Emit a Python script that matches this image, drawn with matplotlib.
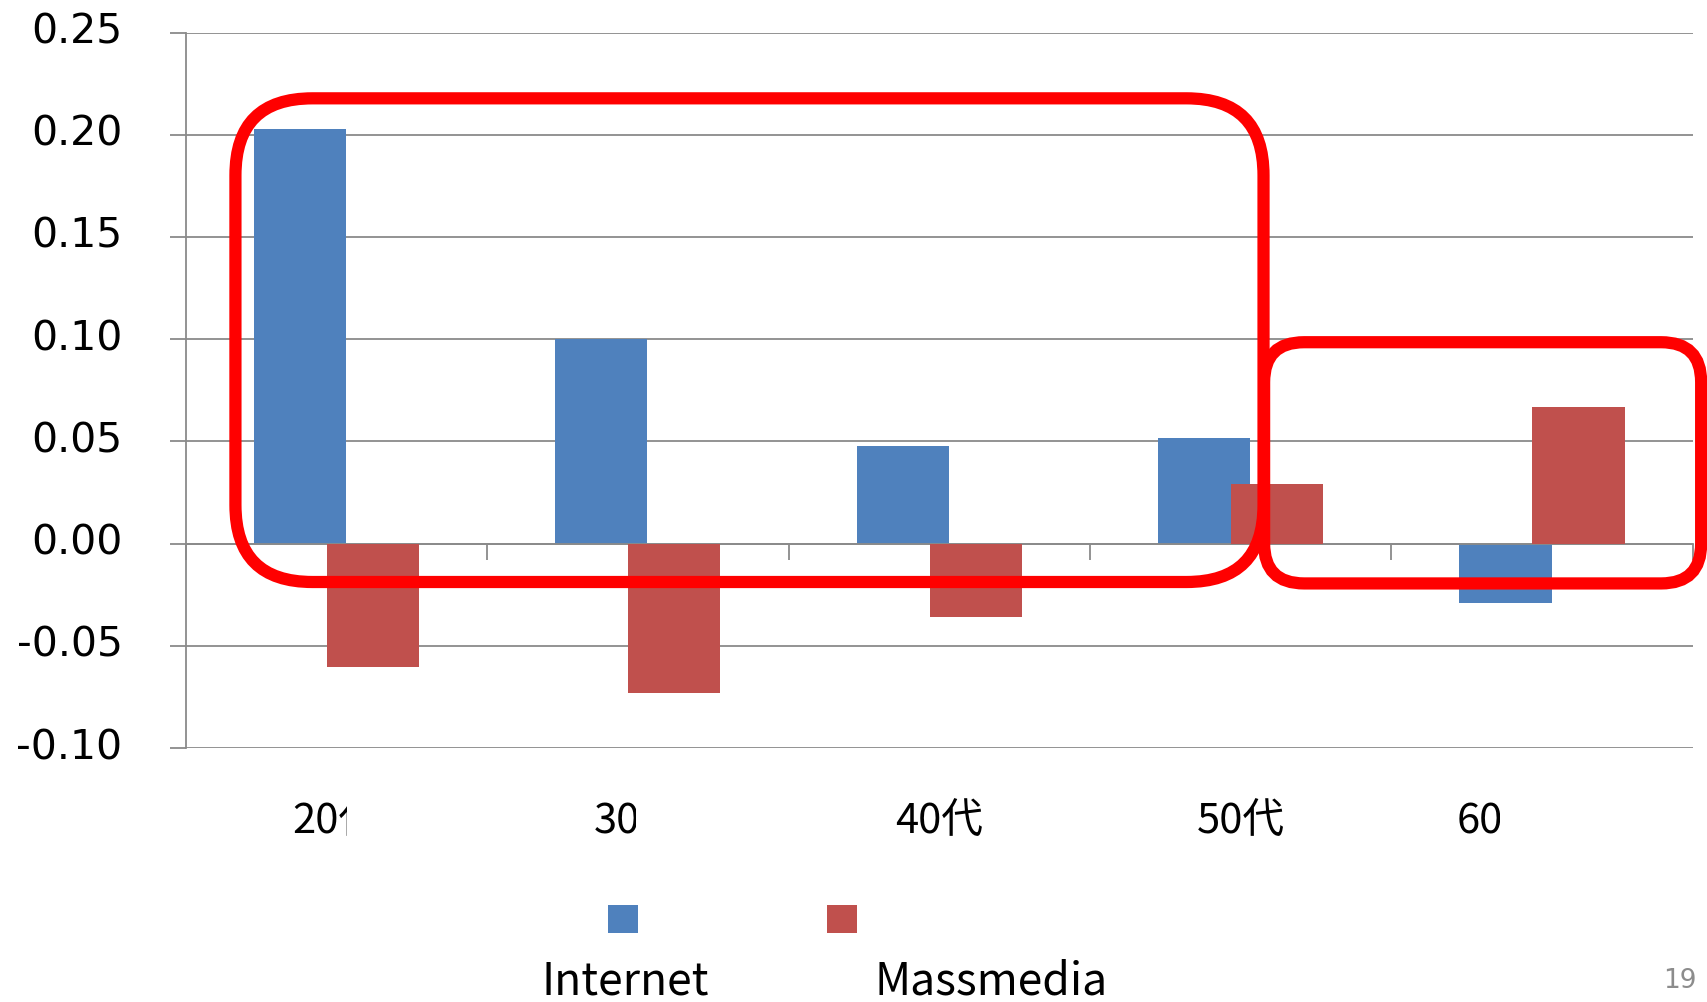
import numpy as np
import matplotlib
matplotlib.use('Agg')
import matplotlib.pyplot as plt
from matplotlib.patches import FancyBboxPatch
from matplotlib.transforms import IdentityTransform, Bbox, TransformedBbox, blended_transform_factory

plt.rcParams['axes.unicode_minus'] = False

# data
age_groups = ['20代', '30代', '40代', '50代', '60代以上']
internet = [0.2026, 0.1000, 0.0478, 0.0515, -0.0293]
massmedia = [-0.0606, -0.0730, -0.0361, 0.0290, 0.0666]
series_names = ['Internet', 'Massmedia']
y_ticks = [-0.10, -0.05, 0.00, 0.05, 0.10, 0.15, 0.20, 0.25]

blue = '#4F81BD'
red = '#C0504D'
grid_grey = '#8a8a8a'
jp_font = ['Noto Sans CJK JP', 'DejaVu Sans']

fig = plt.figure(figsize=(17.07, 10.02), dpi=100)
ax = fig.add_axes([0.10879, 0.25349, 0.88284, 0.71407])

x = np.arange(len(age_groups))
bar_w = 0.306
b1 = ax.bar(x - 0.121, internet, width=bar_w, color=blue, zorder=2)
b2 = ax.bar(x + 0.121, massmedia, width=bar_w, color=red, zorder=3)

ax.set_xlim(-0.5, len(age_groups) - 0.5)
ax.set_ylim(y_ticks[0], y_ticks[-1])

# y axis
ax.set_yticks(y_ticks)
ax.set_yticklabels(['%.2f' % v for v in y_ticks])
ax.yaxis.grid(True, color=grid_grey, lw=1.3)
ax.set_axisbelow(True)
ax.tick_params(axis='y', direction='out', length=11.5, width=1.3, color=grid_grey,
               pad=34, labelsize=29.5, labelcolor='black')
for lab in ax.get_yticklabels():
    lab.set_verticalalignment('center')

# category axis runs along zero, ticks between groups
ax.spines['bottom'].set_position(('data', 0))
ax.spines['bottom'].set_color(grid_grey)
ax.spines['bottom'].set_linewidth(1.3)
ax.spines['left'].set_color(grid_grey)
ax.spines['left'].set_linewidth(1.3)
ax.spines['top'].set_visible(False)
ax.spines['right'].set_visible(False)
ax.set_xticks(x)
ax.set_xticklabels([])
ax.set_xticks(np.arange(len(age_groups) + 1) - 0.5, minor=True)
ax.tick_params(axis='x', which='major', length=0)
ax.tick_params(axis='x', which='minor', direction='out', length=11.5, width=1.3, color=grid_grey)

# group labels below the plot, partly cut off on the right
label_cut = [0.035, 0.995, None, None, 3.862]
blend = blended_transform_factory(ax.transData, ax.transAxes)
clip_tr = blended_transform_factory(ax.transData, fig.transFigure)
for i, name in enumerate(age_groups):
    t = ax.text(i, -0.104, name, transform=blend, ha='center', va='center',
                fontsize=30, family=jp_font, color='black')
    if label_cut[i] is not None:
        t.set_clip_box(TransformedBbox(Bbox.from_extents(i - 1, 0, label_cut[i], 1), clip_tr))
        t.set_clip_on(True)

# legend keys
fig.legend(handles=[b1, b2], labels=['', ''], ncol=2, loc='center',
           bbox_to_anchor=(0.4293, 0.0829), frameon=False, fontsize=12,
           handlelength=1.8, handleheight=2.15, handletextpad=0,
           columnspacing=11.36, borderpad=0, borderaxespad=0)
fig.text(541 / 1707, 0.0075, series_names[0], fontsize=32, family=jp_font, va='baseline')
fig.text(875 / 1707, 0.0075, series_names[1], fontsize=32, family=jp_font, va='baseline')

# red rounded frames around the two groups
def frame(x0, y0, x1, y1, radius):
    (px0, py0), (px1, py1) = ax.transData.transform([(x0, y0), (x1, y1)])
    box = FancyBboxPatch((px0, py0), px1 - px0, py1 - py0,
                         boxstyle='round,pad=0,rounding_size=%d' % radius,
                         transform=IdentityTransform(), fill=False,
                         ec='#FF0000', lw=8.8, zorder=10, clip_on=False)
    fig.add_artist(box)

frame(-0.335, -0.0188, 3.076, 0.2178, 77)
frame(3.078, -0.0195, 4.528, 0.0985, 40)

fig.text(0.9941, 0.014, '19', fontsize=19, color='#8c8c8c', ha='right', va='baseline')

fig.savefig('out.png', dpi=100)
